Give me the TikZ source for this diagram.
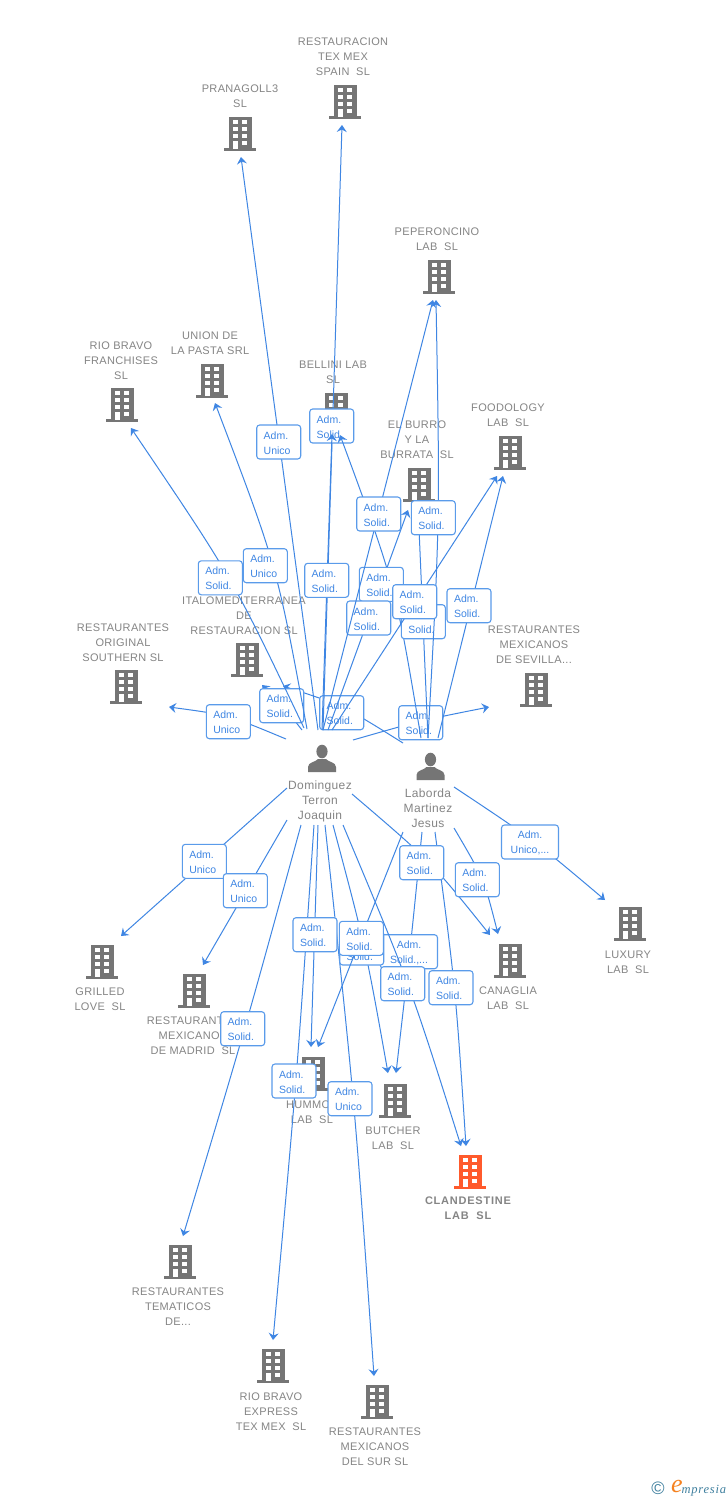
\documentclass[tikz,border=0pt]{standalone}
\usepackage{fontspec}
\setmainfont{Liberation Sans}
\newfontfamily\cofont[LetterSpace=3]{Liberation Sans}
\newfontfamily\cobold[LetterSpace=7]{Liberation Sans Bold}
\newfontfamily\logofont[LetterSpace=6]{Liberation Serif Italic}
\usetikzlibrary{arrows.meta,calc}
\definecolor{icongray}{HTML}{757575}
\definecolor{textgray}{HTML}{858585}
\definecolor{edgeblue}{HTML}{3F86E3}
\definecolor{boxblue}{HTML}{5A9BEA}
\definecolor{labelblue}{HTML}{3F86E3}
\definecolor{hotorange}{HTML}{FF5A2C}
\definecolor{logoteal}{HTML}{3E7F9E}
\definecolor{logoorange}{HTML}{F58220}
\tikzset{
  conn/.style={draw=edgeblue,line width=1pt,-{Stealth[length=7pt,width=10pt,inset=2.5pt]}},
  lab/.style={draw=boxblue,line width=1.1pt,fill=white,rounded corners=3pt,inner xsep=7pt,inner ysep=0pt,
     text width=30pt,align=left,minimum height=34pt,text=labelblue,text height=9.2pt,font=\fontsize{10.5}{15}\selectfont},
  labwide/.style={draw=boxblue,line width=1.1pt,fill=white,rounded corners=3pt,inner xsep=3pt,inner ysep=0pt,
     text width=51pt,align=center,minimum height=34pt,text=labelblue,text height=9.2pt,font=\fontsize{10.5}{15}\selectfont},
  cotx/.style={inner sep=0pt,align=center,text=textgray,font=\cofont\fontsize{11}{15}\selectfont,yshift=-0.7pt},
  cotxb/.style={inner sep=0pt,align=center,text=textgray,font=\cobold\fontsize{11}{15}\selectfont,yshift=-0.7pt},
  pertx/.style={inner sep=0pt,align=center,text=textgray,font=\cofont\fontsize{12}{15}\selectfont},
  iconbox/.style={inner sep=0pt,minimum width=32pt,minimum height=34pt},
  perbox/.style={inner sep=0pt,minimum width=28pt,minimum height=28pt},
  bldg/.pic={
    \fill[pic actions] (-11.5,-17) rectangle (11.5,15);
    \fill[pic actions] (-16,14) rectangle (16,17);
    \foreach \r in {-14,-7,0}{
      \fill[white] (-7.5,\r) rectangle (-2.5,\r+4.4);
      \fill[white] (2,\r) rectangle (7,\r+4.4);
    }
    \fill[white] (-7.5,7) rectangle (-2.5,15);
    \fill[white] (2,7) rectangle (7,11.4);
  },
  person/.pic={
    \fill[icongray] (0,-6.5) ellipse (5.6 and 6.8);
    \fill[icongray] (-14,14) -- (-14,9) .. controls (-14,4) and (-6,4) .. (-4,1) -- (4,1)
       .. controls (6,4) and (14,4) .. (14,9) -- (14,14) -- cycle;
  }
}
\newcommand\cnx[4]{%
  \coordinate (#1s) at (#2);
  \coordinate (#1m) at (#3);
  \coordinate (#1e) at (#4);
  \coordinate (#1c) at ($($(#1s)!.5!(#1e)$)!2!(#1m)$);
  \draw[conn] (#1s) .. controls (#1c) .. (#1e);
}
\newcommand\company[4]{%
  \node[iconbox] (#1) at (#2,#3) {};
  \pic[fill=#4] at (#1) {bldg};
}
\begin{document}
\begin{tikzpicture}[x=1pt,y=-1pt]
\useasboundingbox (0,0) rectangle (728,1500);
\fill[white] (0,0) rectangle (728,1500);

% companies
\company{restauracion}{345}{102}{icongray}
\company{pranagoll}{240}{134}{icongray}
\company{peperoncino}{439}{277}{icongray}
\company{union}{212}{381}{icongray}
\company{franchises}{122}{405}{icongray}
\company{bellini}{336}{410}{icongray}
\company{burro}{419}{485}{icongray}
\company{foodology}{510}{453}{icongray}
\company{italo}{247}{660}{icongray}
\company{southern}{126}{687}{icongray}
\company{sevilla}{536}{690}{icongray}
\company{luxury}{630}{924}{icongray}
\company{grilled}{102}{962}{icongray}
\company{canaglia}{510}{961}{icongray}
\company{madrid}{194}{991}{icongray}
\company{hummo}{313}{1074}{icongray}
\company{butcher}{395}{1101}{icongray}
\company{clandestine}{470}{1172}{hotorange}
\company{tematicos}{180}{1262}{icongray}
\company{express}{273}{1366}{icongray}
\company{sur}{377}{1402}{icongray}

% company texts
\node[cotx] (t1) at (343,56) {RESTAURACION\\TEX MEX\\SPAIN~~SL};
\node[cotx] (t2) at (240,95.5) {PRANAGOLL3\\SL};
\node[cotx] (t3) at (437,238.5) {PEPERONCINO\\LAB~~SL};
\node[cotx] (t4) at (210,342.5) {UNION DE\\LA PASTA SRL};
\node[cotx] (t5) at (121,360) {RIO BRAVO\\FRANCHISES\\SL};
\node[cotx] (t6) at (333,371.5) {BELLINI LAB\\SL};
\node[cotx] (t7) at (417,439) {EL BURRO\\Y LA\\BURRATA~~SL};
\node[cotx] (t8) at (508,414.5) {FOODOLOGY\\LAB~~SL};
\node[cotx] (t9) at (244,615) {ITALOMEDITERRANEA\\DE\\RESTAURACION SL};
\node[cotx] (t10) at (123,642) {RESTAURANTES\\ORIGINAL\\SOUTHERN SL};
\node[cotx] (t11) at (534,644.5) {RESTAURANTES\\MEXICANOS\\DE SEVILLA...};
\node[cotx] (t12) at (628,961.5) {LUXURY\\LAB~~SL};
\node[cotx] (t13) at (100,998.5) {GRILLED\\LOVE~~SL};
\node[cotx] (t14) at (508,997.5) {CANAGLIA\\LAB~~SL};
\node[cotx] (t15) at (193,1035) {RESTAURANTES\\MEXICANOS\\DE MADRID~~SL};
\node[cotx] (t16) at (312,1111.5) {HUMMOS\\LAB~~SL};
\node[cotx] (t17) at (393,1137.5) {BUTCHER\\LAB~~SL};
\node[cotxb] (t18) at (468,1207.5) {CLANDESTINE\\LAB~~SL};
\node[cotx] (t19) at (178,1306) {RESTAURANTES\\TEMATICOS\\DE...};
\node[cotx] (t20) at (271,1411) {RIO BRAVO\\EXPRESS\\TEX MEX~~SL};
\node[cotx] (t21) at (375,1446) {RESTAURANTES\\MEXICANOS\\DEL SUR SL};

% persons
\node[perbox] (dom) at (322,758) {};
\pic at (dom) {person};
\node[perbox] (lab) at (430.5,766) {};
\pic at (lab) {person};
\node[pertx] (dt) at (320,801) {Dominguez\\Terron\\Joaquin};
\node[pertx] (lt) at (428,808) {Laborda\\Martinez\\Jesus};

% connectors, upper half
\cnx{a1}{353,740}{421,722}{489,707}
\node[lab] (la1) at (420.7,722.7) {Adm.\\Solid.};
\cnx{a2}{286,739}{228,719}{169,707}
\node[lab] (la2) at (228.3,721.7) {Adm.\\Unico};
\cnx{a3}{403,743}{343,710}{283,686}
\node[lab] (la3) at (341.7,712.7) {Adm.\\Solid.};
\cnx{a4}{302,730}{282,706}{262,685}
\node[lab] (la4) at (281.7,705.7) {Adm.\\Solid.};
\cnx{a5}{323,730}{332.5,427.5}{342,125}
\node[lab] (la5) at (331.7,426) {Adm.\\Solid.};
\cnx{a6}{318,730}{279.5,443.5}{241,157}
\node[lab] (la6) at (278.7,442) {Adm.\\Unico};
\cnx{a7}{304,728}{225,578}{131,428}
\node[lab] (la7) at (220.3,577.8) {Adm.\\Solid.};
\cnx{a8}{307,729}{269,566}{215,403}
\node[lab] (la8) at (265.3,565.7) {Adm.\\Unico};
\cnx{a9}{322,730}{327,582}{332,434}
\node[lab] (la9) at (326.7,580.3) {Adm.\\Solid.};
\cnx{a10}{421,738}{388,586}{340,435}
\cnx{a11}{328,730}{368,620}{408,510}
\node[lab] (la10) at (381.3,584.3) {Adm.\\Solid.};
\node[lab] (la11) at (368.7,618) {Adm.\\Solid.};
\cnx{a12}{323,730}{378,515}{433,300}
\node[lab] (la12) at (378.7,514) {Adm.\\Solid.};
\cnx{a13}{428,738}{423,621.5}{418,505}
\node[lab] (la13) at (423.3,621.7) {Adm.\\Solid.};
\cnx{a14}{428,738}{436,519}{436,300}
\cnx{a15}{332,730}{414.5,603}{497,476}
\node[lab] (la15) at (414.7,601.7) {Adm.\\Solid.};
\node[lab] (la14) at (433.3,517.7) {Adm.\\Solid.};
\cnx{a16}{438,738}{470.5,607}{503,476}
\node[lab] (la16) at (469,605.7) {Adm.\\Solid.};

% connectors, lower half
\cnx{b1}{287,788}{204,862}{121,936}
\node[lab] (lb1) at (204.3,861.3) {Adm.\\Unico};
\cnx{b2}{287,820}{245,892.5}{203,965}
\node[lab] (lb2) at (245.3,890.7) {Adm.\\Unico};
\cnx{b3}{301,825}{243.5,1030}{183,1236}
\node[lab] (lb3) at (242.7,1028.7) {Adm.\\Solid.};
\cnx{b4}{314,825}{295,1082}{273,1340}
\node[lab] (lb4) at (294,1081) {Adm.\\Solid.};
\cnx{b5}{325,825}{352,1100}{374,1376}
\node[lab] (lb5) at (350,1098.7) {Adm.\\Unico};
\cnx{b6}{422,832}{409.5,952}{396,1073}
\node[labwide] (lb6) at (409,951.7) {Adm.\\Solid.,...};
\cnx{b7}{333,825}{363,948}{388,1073}
\node[lab] (lb7) at (361.7,948) {Adm.\\Solid.};
\cnx{b8}{318,825}{314.5,936}{311,1047}
\node[lab] (lb8) at (315,934.7) {Adm.\\Solid.};
\cnx{b9}{403,832}{361,938}{318,1047}
\node[lab] (lb9) at (361.3,938.3) {Adm.\\Solid.};
\cnx{b10}{343,825}{406,985}{461,1146}
\node[lab] (lb10) at (402.7,983.7) {Adm.\\Solid.};
\cnx{b11}{435,832}{453,988}{466,1146}
\node[lab] (lb11) at (451,987.7) {Adm.\\Solid.};
\cnx{b12}{352,794}{426,863}{490,935}
\node[lab] (lb12) at (421.7,862.7) {Adm.\\Solid.};
\cnx{b13}{454,828}{480,880}{498,934}
\node[lab] (lb13) at (477.3,879.7) {Adm.\\Solid.};
\cnx{b14}{454,787}{532,842}{605,900}
\node[labwide] (lb14) at (530,842) {Adm.\\Unico,...};

% logo
\node[inner sep=0pt,text=logoteal,font=\fontsize{18}{18}\selectfont] (copy) at (658,1488) {©};
\node[inner sep=0pt,text=logoorange,font=\logofont\fontsize{26}{26}\selectfont] (emark) at (677,1486) {e};
\node[inner sep=0pt,anchor=base west,text=logoteal,font=\logofont\fontsize{12.5}{12}\selectfont] (emp) at (681.5,1493) {mpresia};
\end{tikzpicture}
\end{document}
